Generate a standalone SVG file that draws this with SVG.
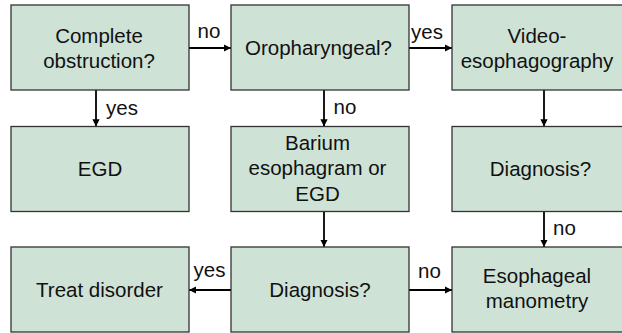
<svg xmlns="http://www.w3.org/2000/svg" width="622" height="333" viewBox="0 0 622 333">
  <style>
    .box { fill: #cfe2d6; stroke: #333333; stroke-width: 1.3; }
    .txt { font-family: "Liberation Sans", Arial, Helvetica, sans-serif; font-size: 20.5px; fill: #111111; }
    .mid { text-anchor: middle; }
    .lbl { font-family: "Liberation Sans", Arial, Helvetica, sans-serif; font-size: 20.5px; fill: #111111; }
    .edge { stroke: #000000; stroke-width: 1.8; fill: none; marker-end: url(#arrow); }
  </style>
  <defs>
    <marker id="arrow" viewBox="0 0 10 10" refX="10" refY="5" markerWidth="4" markerHeight="4" orient="auto" markerUnits="strokeWidth">
      <path d="M0,0 L10,5 L0,10 Z" fill="#000000"/>
    </marker>
  </defs>

  <rect width="622" height="333" fill="#ffffff"/>

  <!-- connectors -->
  <g id="connectors">
    <line class="edge" x1="189" y1="48" x2="231" y2="48"/>
    <line class="edge" x1="409" y1="48" x2="452" y2="48"/>
    <line class="edge" x1="96" y1="90" x2="96" y2="126.5"/>
    <line class="edge" x1="324" y1="90" x2="324" y2="126.5"/>
    <line class="edge" x1="544" y1="90" x2="544" y2="126.5"/>
    <line class="edge" x1="324" y1="211.5" x2="324" y2="247"/>
    <line class="edge" x1="544" y1="211.5" x2="544" y2="247"/>
    <line class="edge" x1="231" y1="290" x2="189" y2="290"/>
    <line class="edge" x1="409" y1="290" x2="452" y2="290"/>
    <text class="lbl" x="209" y="38" text-anchor="middle">no</text>
    <text class="lbl" x="411" y="39">yes</text>
    <text class="lbl" x="106" y="115">yes</text>
    <text class="lbl" x="333.5" y="114">no</text>
    <text class="lbl" x="553" y="235">no</text>
    <text class="lbl" x="193.5" y="277">yes</text>
    <text class="lbl" x="418" y="278">no</text>
  </g>

  <!-- nodes -->
  <g id="complete-obstruction">
    <rect class="box" x="11" y="5" width="178" height="85"/>
    <text class="txt mid" x="99" y="43">Complete</text>
    <text class="txt mid" x="99" y="68">obstruction?</text>
  </g>
  <g id="oropharyngeal">
    <rect class="box" x="231" y="5" width="178" height="85"/>
    <text class="txt mid" x="318.5" y="55">Oropharyngeal?</text>
  </g>
  <g id="videoesophagography">
    <rect class="box" x="452" y="5" width="178" height="85"/>
    <text class="txt mid" x="537" y="43">Video-</text>
    <text class="txt mid" x="537" y="68">esophagography</text>
  </g>
  <g id="egd">
    <rect class="box" x="11" y="126.5" width="178" height="85"/>
    <text class="txt mid" x="100" y="176">EGD</text>
  </g>
  <g id="barium-esophagram">
    <rect class="box" x="231" y="126.5" width="178" height="85"/>
    <text class="txt mid" x="317.5" y="150">Barium</text>
    <text class="txt mid" x="317.5" y="175">esophagram or</text>
    <text class="txt mid" x="317.5" y="201">EGD</text>
  </g>
  <g id="diagnosis-upper">
    <rect class="box" x="452" y="126.5" width="178" height="85"/>
    <text class="txt mid" x="540.5" y="176">Diagnosis?</text>
  </g>
  <g id="treat-disorder">
    <rect class="box" x="11" y="247" width="178" height="85"/>
    <text class="txt mid" x="99.5" y="297">Treat disorder</text>
  </g>
  <g id="diagnosis-lower">
    <rect class="box" x="231" y="247" width="178" height="85"/>
    <text class="txt mid" x="320" y="297">Diagnosis?</text>
  </g>
  <g id="esophageal-manometry">
    <rect class="box" x="452" y="247" width="178" height="85"/>
    <text class="txt mid" x="537" y="283">Esophageal</text>
    <text class="txt mid" x="537" y="308">manometry</text>
  </g>
</svg>
